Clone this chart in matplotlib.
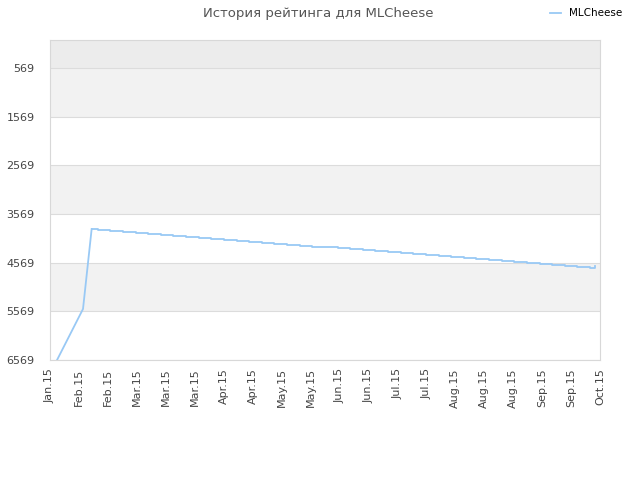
import matplotlib
matplotlib.use('Agg')
import matplotlib.pyplot as plt

# Данные (день от начала оси, рейтинг)
rise_days = [3.9, 18.3, 23.1]
rise_rating = [6569, 5521, 3877]

step_days = [26.45, 33.45, 40.45, 47.45, 54.45, 61.45, 68.45, 75.45, 82.45, 89.45,
             96.45, 103.45, 110.45, 117.45, 124.45, 131.45, 138.45, 145.45, 152.45, 159.45,
             166.45, 173.45, 180.45, 187.45, 194.45, 201.45, 208.45, 215.45, 222.45, 229.45,
             236.45, 243.45, 250.45, 257.45, 264.45, 271.45, 278.45, 285.45, 292.45, 299.45]
step_rating = [3897, 3917, 3937, 3957, 3977, 3997, 4017, 4037, 4057, 4077,
               4097, 4117, 4137, 4157, 4177, 4197, 4217, 4237, 4257, 4277,
               4297, 4317, 4337, 4357, 4377, 4397, 4417, 4437, 4457, 4477,
               4497, 4517, 4537, 4557, 4577, 4597, 4617, 4637, 4657, 4678]
end_day = 302.5
end_rating = 4630

x_labels = ['Jan.15', 'Feb.15', 'Feb.15', 'Mar.15', 'Mar.15', 'Mar.15', 'Apr.15',
            'Apr.15', 'May.15', 'May.15', 'Jun.15', 'Jun.15', 'Jul.15', 'Jul.15',
            'Aug.15', 'Aug.15', 'Aug.15', 'Sep.15', 'Sep.15', 'Oct.15']
y_ticks = [569, 1569, 2569, 3569, 4569, 5569, 6569]

x_max = 305.0
y_top = -6

fig = plt.figure(figsize=(6.4, 4.8), dpi=100)
ax = fig.add_axes([50 / 640, 1 - 360 / 480, 550 / 640, 320 / 480])

# полосы фона
bounds = [y_top] + y_ticks
band_colors = ['#ececec', '#f2f2f2', '#ffffff', '#f2f2f2', '#ffffff', '#f2f2f2', '#ffffff']
for i in range(len(bounds) - 1):
    ax.axhspan(bounds[i], bounds[i + 1], color=band_colors[i], lw=0, zorder=0)
for y in y_ticks:
    ax.axhline(y, color='#dcdcdc', lw=0.8, zorder=1)

line_color = '#99c9f5'
# подъём - прямые отрезки
ax.plot(rise_days, rise_rating, color=line_color, lw=1.3, zorder=3, label='MLCheese')
# дальше - ступеньки
ax.plot([rise_days[-1]] + step_days + [end_day],
        [rise_rating[-1]] + step_rating + [end_rating],
        color=line_color, lw=1.3, drawstyle='steps-post', zorder=3)

ax.set_xlim(0, x_max)
ax.set_ylim(6569, y_top)
ax.set_yticks(y_ticks)
ax.set_yticklabels([str(v) for v in y_ticks], fontsize=8, color='#444444')
ticks_x = [x_max * i / (len(x_labels) - 1) for i in range(len(x_labels))]
ax.set_xticks(ticks_x)
ax.set_xticklabels(x_labels, rotation=90, fontsize=8, color='#444444')
ax.tick_params(axis='y', length=0, pad=11)
ax.tick_params(axis='x', length=0, pad=6)

for s in ax.spines.values():
    s.set_color('#d8d8d8')
    s.set_linewidth(0.8)

fig.text(318 / 640, 1 - 13 / 480, 'История рейтинга для MLCheese', ha='center', va='center',
         fontsize=9.5, color='#555555')
fig.legend(loc='upper right', bbox_to_anchor=(632 / 640, 1 + 1 / 480), frameon=False,
           fontsize=7.5, handlelength=1.1, handletextpad=0.8)

fig.savefig('out.png', dpi=100)
